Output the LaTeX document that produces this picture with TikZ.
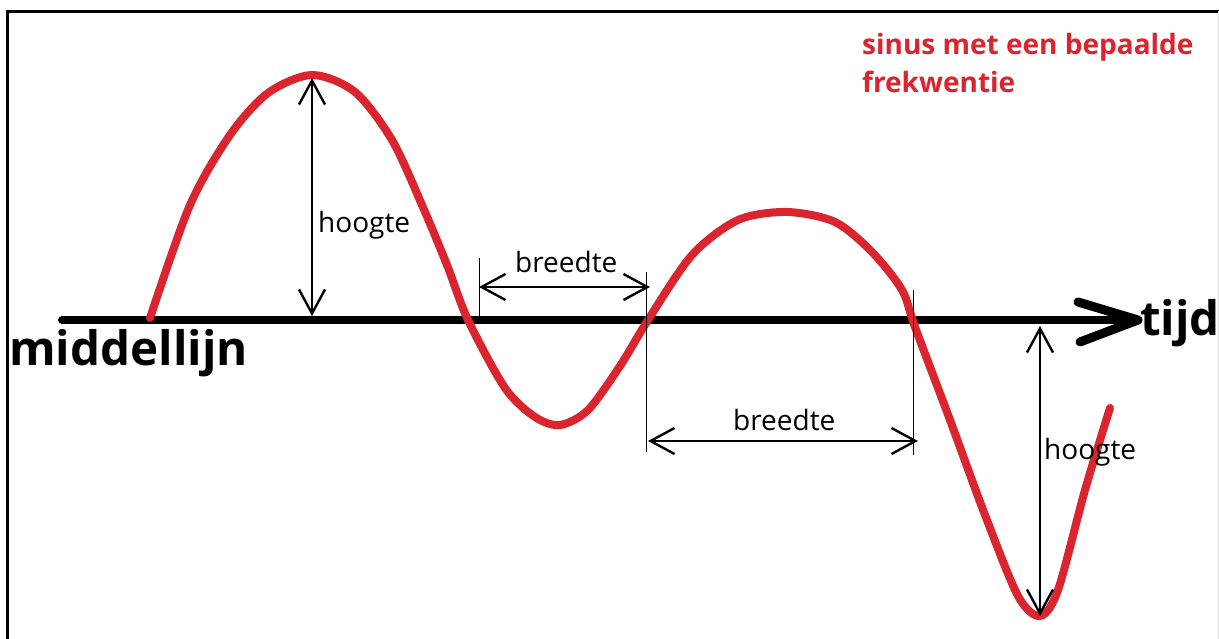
\documentclass[tikz,border=0pt]{standalone}
\usepackage{fontspec}
\setmainfont{Open Sans}
\usetikzlibrary{arrows.meta}
\definecolor{sinred}{RGB}{218,36,46}
\begin{document}
\begin{tikzpicture}[x=1pt,y=-1pt,
  barb/.tip={Straight Barb[length=24pt,width=26pt,line width=2.4pt]},
  dim/.style={line width=2.4pt,barb-barb},
  tick/.style={line width=1pt},
  lbl/.style={anchor=base west,inner sep=0pt,font=\fontsize{28}{32}\selectfont},
  big/.style={anchor=base west,inner sep=0pt,font=\fontsize{47.5}{52}\selectfont\bfseries}]
\useasboundingbox (0,0) rectangle (1219,639);
\fill[white] (0,0) rectangle (1219,639);
% frame
\draw[line width=2.6pt] (7.5,639) -- (7.5,11.5) -- (1219,11.5);
\draw[line width=0.6pt,black!12] (1218,11.5) -- (1218,639);
% axis
\coordinate (axL) at (62,320);
\coordinate (axR) at (1132,320);
\coordinate (tipA) at (1138,320);
\coordinate (armU) at (1078,302);
\coordinate (armD) at (1080,342);
\draw[line width=8pt,line cap=round] (axL) -- (axR);
\draw[line width=9pt,line cap=round,line join=round] (armU) -- (tipA) -- (armD);
% sine curve
\draw[sinred,line width=8pt,line cap=round,line join=round] plot[smooth,tension=0.5] coordinates{
 (150,318) (190,205) (230,135) (268,93) (312,75) (355,92) (392,140) (422,205) (447,265) (468,320)
 (505,388) (535,417) (560,425) (588,410) (620,366) (648,320) (692,255) (738,220) (787,212)
 (835,222) (872,252) (902,290) (915,327) (950,420) (985,515) (1018,596) (1040,616)
 (1058,590) (1085,490) (1110,408)};
% dimension ticks
\coordinate (t1a) at (479,258); \coordinate (t1b) at (479,320);
\coordinate (t2a) at (646,272); \coordinate (t2b) at (646,452);
\coordinate (t3a) at (913,290); \coordinate (t3b) at (913,455);
\draw[tick] (t1a) -- (t1b);
\draw[tick] (t2a) -- (t2b);
\draw[tick] (t3a) -- (t3b);
% dimension arrows
\coordinate (h1t) at (312,78); \coordinate (h1b) at (312,316);
\coordinate (b1l) at (479,287); \coordinate (b1r) at (650,287);
\coordinate (b2l) at (648,441); \coordinate (b2r) at (918,441);
\coordinate (h2t) at (1040,326); \coordinate (h2b) at (1040,616);
\draw[dim] (h1t) -- (h1b);
\draw[dim] (b1l) -- (b1r);
\draw[dim] (b2l) -- (b2r);
\draw[dim] (h2t) -- (h2b);
% labels
\node[lbl] (hoogte1) at (318,233) {hoogte};
\node[lbl] (breedte1) at (515,273) {breedte};
\node[lbl] (breedte2) at (733,430) {breedte};
\node[lbl] (hoogte2) at (1044,459) {hoogte};
\node[big] (middel) at (9,365) {middellijn};
\node[big] (tijd) at (1140,335) {tijd};
\node[anchor=north west,inner sep=0pt,align=left,text=sinred,font=\fontsize{28}{38}\selectfont\bfseries] (title) at (862,33) {sinus met een bepaalde\\frekwentie};
\end{tikzpicture}
\end{document}
